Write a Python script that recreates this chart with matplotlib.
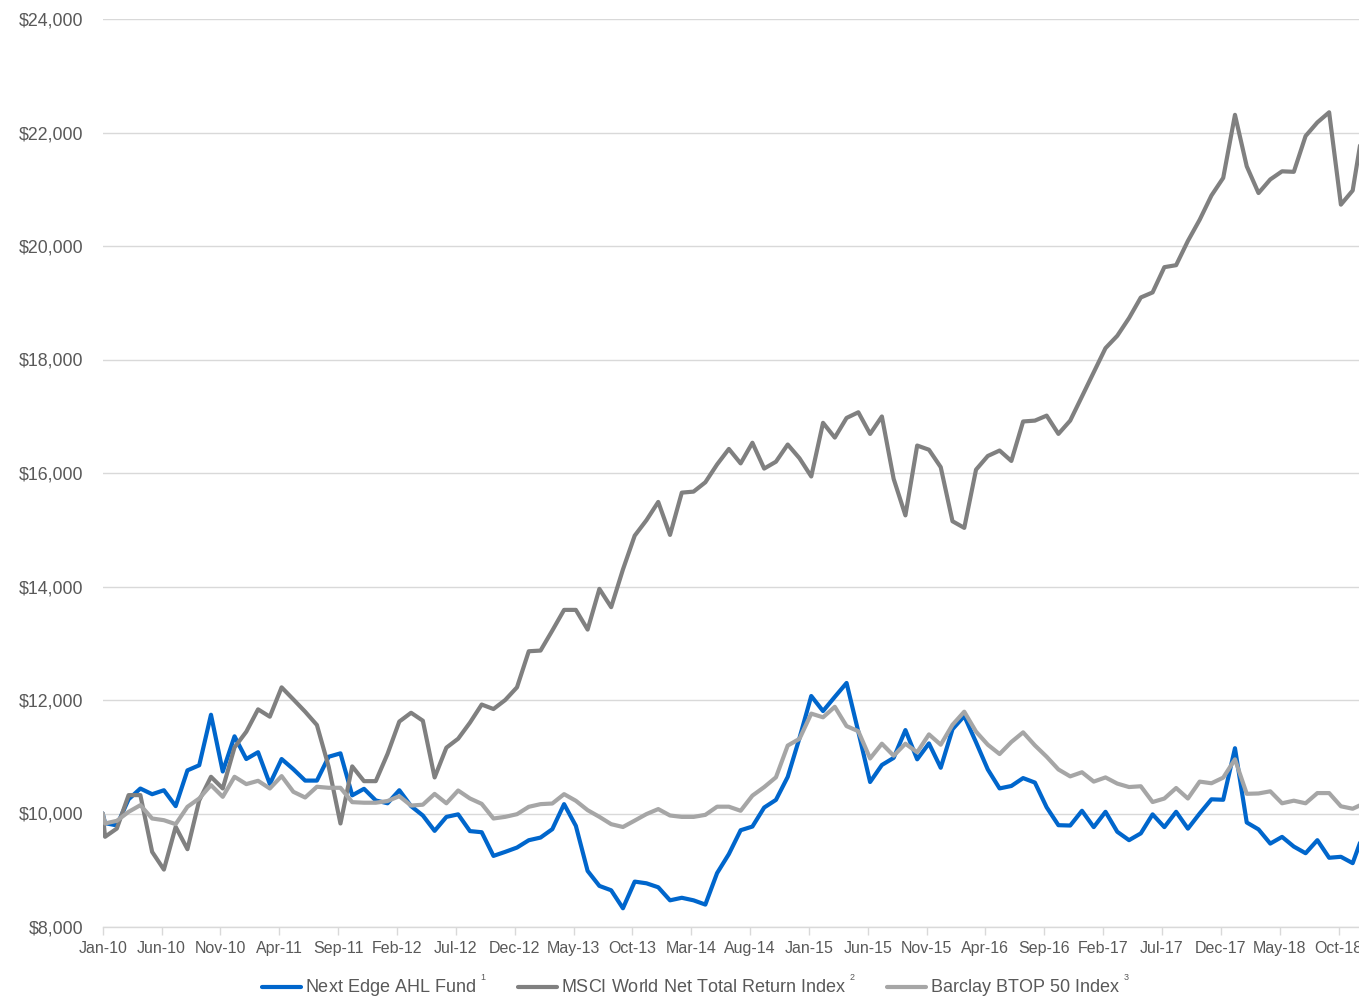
import numpy as np
import matplotlib
matplotlib.use("Agg")
import matplotlib.pyplot as plt
from matplotlib.ticker import FuncFormatter

plt.rcParams["font.family"] = ["Liberation Sans", "DejaVu Sans"]
plt.rcParams["mathtext.fontset"] = "custom"
plt.rcParams["mathtext.rm"] = "Liberation Sans"
plt.rcParams["mathtext.it"] = "Liberation Sans"

# Growth of $10,000, month-end values Jan-10 .. Dec-18
start_value = 10000

ahl_fund = [
    9830, 9790, 10250, 10440, 10340, 10410, 10130, 10760, 10850, 11740,
    10740, 11360, 10960, 11080, 10520, 10960, 10780, 10580, 10580, 11000,
    11060, 10320, 10435, 10230, 10180, 10410, 10130, 9965, 9694, 9940,
    9985, 9690, 9670, 9253, 9324, 9400, 9529, 9576, 9724, 10165,
    9782, 8988, 8724, 8647, 8330, 8800, 8770, 8700, 8470, 8515,
    8470, 8395, 8950, 9285, 9705, 9770, 10105, 10240, 10645, 11330,
    12070, 11805, 12055, 12300, 11440, 10555, 10855, 10980, 11470, 10955,
    11235, 10806, 11485, 11718, 11255, 10776, 10442, 10485, 10624, 10545,
    10109, 9794, 9788, 10048, 9760, 10030, 9678, 9530, 9650, 9985,
    9760, 10030, 9733, 10000, 10250, 10242, 11150, 9842, 9720, 9470,
    9588, 9417, 9300, 9530, 9220, 9237, 9125, 9700,
]

msci_world = [
    9590, 9735, 10324, 10324, 9324, 9012, 9765, 9371, 10230, 10647,
    10441, 11165, 11441, 11835, 11706, 12223, 12010, 11794, 11559, 10824,
    9824, 10830, 10570, 10570, 11050, 11620, 11775, 11635, 10635, 11160,
    11318, 11600, 11920, 11841, 12000, 12224, 12859, 12871, 13224, 13588,
    13588, 13241, 13958, 13636, 14300, 14896, 15169, 15490, 14909, 15654,
    15672, 15836, 16151, 16424, 16169, 16533, 16078, 16199, 16502, 16260,
    15939, 16884, 16624, 16970, 17070, 16689, 16996, 15897, 15253, 16484,
    16410, 16103, 15150, 15033, 16059, 16300, 16396, 16212, 16908, 16923,
    17011, 16689, 16923, 17348, 17775, 18200, 18418, 18730, 19093, 19182,
    19627, 19662, 20089, 20462, 20889, 21200, 22311, 21404, 20933, 21173,
    21316, 21307, 21938, 22178, 22356, 20729, 20978, 22250,
]

btop50 = [
    9824, 9871, 10029, 10147, 9912, 9882, 9812, 10118, 10265, 10500,
    10294, 10647, 10518, 10576, 10441, 10659, 10382, 10282, 10471, 10453,
    10453, 10200, 10190, 10190, 10220, 10305, 10140, 10155, 10345, 10180,
    10405, 10265, 10170, 9912, 9941, 9988, 10118, 10165, 10176, 10341,
    10224, 10059, 9941, 9812, 9762, 9875, 9990, 10078, 9965, 9940,
    9940, 9976, 10120, 10120, 10048, 10315, 10465, 10638, 11197, 11316,
    11760, 11695, 11880, 11540, 11450, 10970, 11230, 11018, 11230, 11079,
    11394, 11212, 11563, 11794, 11442, 11212, 11048, 11260, 11430, 11200,
    11000, 10776, 10654, 10727, 10562, 10636, 10527, 10466, 10480, 10202,
    10264, 10449, 10264, 10562, 10533, 10632, 10954, 10347, 10353, 10391,
    10180, 10226, 10180, 10360, 10360, 10127, 10084, 10180,
]

tick_labels = [
    "Jan-10", "Jun-10", "Nov-10", "Apr-11", "Sep-11", "Feb-12", "Jul-12",
    "Dec-12", "May-13", "Oct-13", "Mar-14", "Aug-14", "Jan-15", "Jun-15",
    "Nov-15", "Apr-16", "Sep-16", "Feb-17", "Jul-17", "Dec-17", "May-18",
    "Oct-18",
]

series_names = [
    r"Next Edge AHL Fund $^{^{1}}$",
    r"MSCI World Net Total Return Index $^{^{2}}$",
    r"Barclay BTOP 50 Index $^{^{3}}$",
]
series_colors = ["#0066cc", "#808080", "#a6a6a6"]

# month axis: inception sits on the Jan-10 tick, monthly values a few days later
obs_lag = 0.2
n = len(ahl_fund)
x = np.r_[0.0, np.arange(n) + obs_lag]

text_color = "#595959"
grid_color = "#d9d9d9"

fig = plt.figure(figsize=(13.59, 9.98), dpi=100)
ax = fig.add_axes([102.7 / 1359, 71 / 998, 1256.3 / 1359, 908 / 998])

handles = []
for values, color in zip([ahl_fund, msci_world, btop50], series_colors):
    (ln,) = ax.plot(x, np.r_[start_value, values], color=color, lw=3.0,
                    solid_joinstyle="round", solid_capstyle="round")
    handles.append(ln)

ax.set_xlim(0, 1256.3 / 11.77)
ax.set_ylim(8000, 24000)
ax.set_yticks(np.arange(8000, 24001, 2000))
ax.yaxis.set_major_formatter(FuncFormatter(lambda v, _: f"${v:,.0f}"))
ax.set_xticks(np.arange(len(tick_labels)) * 5)
ax.set_xticklabels(tick_labels)

ax.grid(axis="y", color=grid_color, lw=1.0)
ax.set_axisbelow(True)
for side in ["top", "right", "left"]:
    ax.spines[side].set_visible(False)
ax.spines["bottom"].set_color(grid_color)
ax.spines["bottom"].set_linewidth(1.0)

ax.tick_params(axis="y", length=0, pad=14, labelsize=12.8, labelcolor=text_color)
ax.tick_params(axis="x", length=6, width=1, color=grid_color, pad=4,
               labelsize=11.5, labelcolor=text_color)

leg = fig.legend(handles, series_names, loc="center", bbox_to_anchor=(0.512, 0.012),
                 ncol=3, frameon=False, fontsize=13, handlelength=2.2,
                 handletextpad=0.2, columnspacing=1.7)
for t in leg.get_texts():
    t.set_color(text_color)

fig.savefig("out.png", dpi=100)
